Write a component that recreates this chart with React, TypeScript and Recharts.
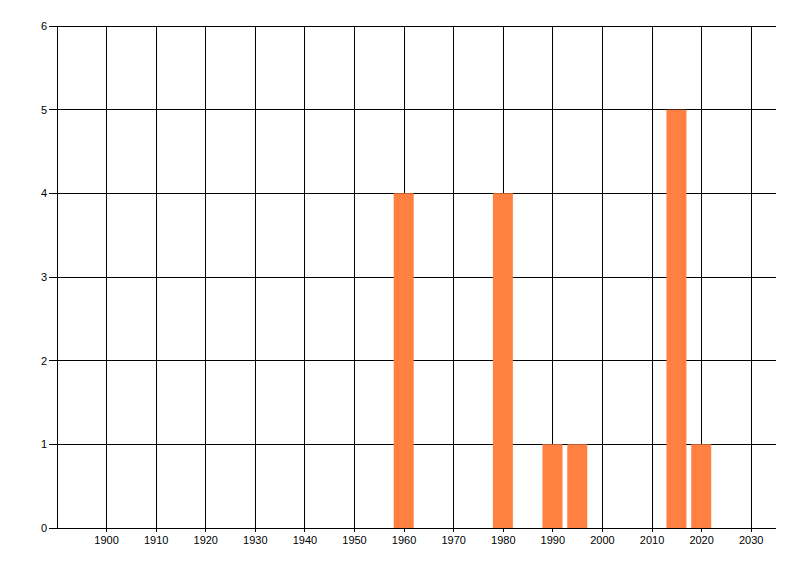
import React from "react";
import { ComposedChart, Bar, XAxis, YAxis, CartesianGrid } from "recharts";

const years = [1960, 1980, 1990, 1995, 2015, 2020];
const counts = [4, 4, 1, 1, 5, 1];
const xTicks = [1900, 1910, 1920, 1930, 1940, 1950, 1960, 1970, 1980, 1990, 2000, 2010, 2020, 2030];
const yTicks = [0, 1, 2, 3, 4, 5, 6];

const data = years.map((y, i) => ({ year: y, count: counts[i] }));

export default function App() {
  const tickStyle = { fontFamily: "'Liberation Sans', Arial, sans-serif", fontSize: 11, fill: "#000" };
  return (
    <div style={{ position: "absolute", left: 0, top: 0, background: "#fff" }}>
      <ComposedChart
        width={800}
        height={576}
        data={data}
        margin={{ top: 26, right: 24, bottom: 0, left: 0 }}
      >
        <CartesianGrid
          stroke="#000"
          strokeWidth={1}
          horizontalValues={yTicks}
          verticalValues={xTicks}
          shapeRendering="crispEdges"
        />
        <XAxis
          dataKey="year"
          type="number"
          domain={[1890, 2035]}
          ticks={xTicks}
          interval={0}
          height={48}
          tickSize={4}
          tickMargin={4}
          stroke="#000"
          tick={tickStyle}
          allowDataOverflow
          shapeRendering="crispEdges"
        />
        <YAxis
          type="number"
          domain={[0, 6]}
          ticks={yTicks}
          interval={0}
          width={57}
          tickSize={8}
          tickMargin={2}
          stroke="#000"
          tick={tickStyle}
          shapeRendering="crispEdges"
        />
        <Bar dataKey="count" fill="#FF8040" barSize={20} isAnimationActive={false} />
      </ComposedChart>
    </div>
  );
}
